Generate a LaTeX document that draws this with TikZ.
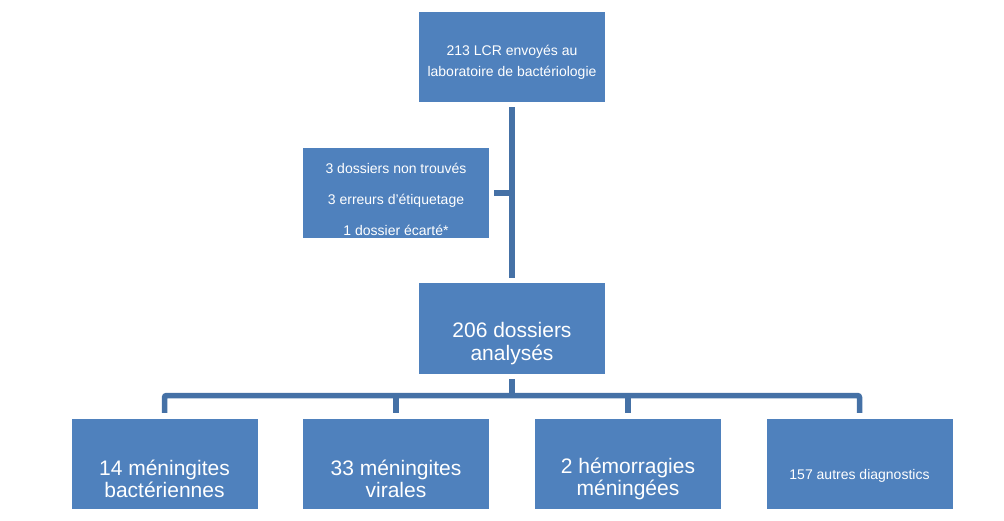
\documentclass[tikz,border=0pt]{standalone}
\usepackage{fontspec}
\setmainfont{Liberation Sans}
\definecolor{boxblue}{HTML}{4F81BD}
\definecolor{connblue}{HTML}{4571A6}
\begin{document}
\begin{tikzpicture}[x=1pt,y=-1pt,
  box/.style={rectangle, fill=boxblue, draw=none, inner sep=0pt, minimum width=186pt, minimum height=90pt},
  txt/.style={text=white, align=center, inner sep=0pt},
  small/.style={txt, font=\fontsize{14}{21}\selectfont},
  big/.style={txt, font=\fontsize{21}{22.5}\selectfont},
  conn/.style={draw=connblue, line width=5.5pt}]
\useasboundingbox (0,0) rectangle (1004,520);
% boxes
\node[box] (top) at (512,57) {};
\node[box] (side) at (396,193) {};
\node[box, minimum height=91pt] (mid) at (512,328.5) {};
\node[box] (b1) at (164.5,464) {};
\node[box] (b2) at (396,464) {};
\node[box] (b3) at (628,464) {};
\node[box] (b4) at (859.5,464) {};
% texts
\node[small] (ttop) at (512,62.5) {213 LCR envoyés au\\laboratoire de bactériologie};
\node[txt, font=\fontsize{14}{31}\selectfont] (tside) at (396,199) {3 dossiers non trouvés\\3 erreurs d'étiquetage\\1 dossier écarté*};
\node[big] (tmid) at (512,343.5) {206 dossiers\\analysés};
\node[big] (tb1) at (164.5,479) {14 méningites\\bactériennes};
\node[big] (tb2) at (396,479) {33 méningites\\virales};
\node[big] (tb3) at (628,479) {2 hémorragies\\méningées};
\node[small] (tb4) at (859.5,476) {157 autres diagnostics};
% connectors
\coordinate (bar) at (512,395.5);
\draw[conn] ([yshift=-5pt]top.south) -- ([yshift=5pt]mid.north);
\draw[conn] ([xshift=5pt]side.east) -- (side.east -| top.south);
\draw[conn] ([yshift=-5pt]mid.south) -- (bar);
\draw[conn, rounded corners=2pt] ([yshift=6pt]b1.north) |- (bar) -| ([yshift=6pt]b4.north);
\draw[conn] ([yshift=6pt]b2.north) -- (b2.north |- bar);
\draw[conn] ([yshift=6pt]b3.north) -- (b3.north |- bar);
\end{tikzpicture}
\end{document}
